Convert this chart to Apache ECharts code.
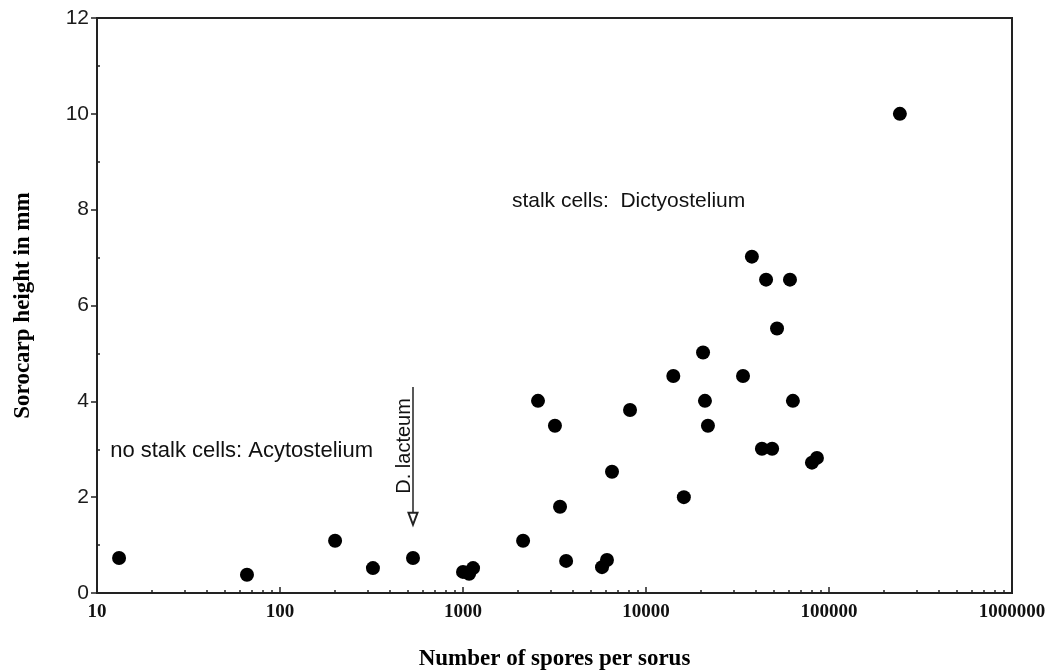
<!DOCTYPE html>
<html>
<head>
<meta charset="utf-8">
<script src="https://cdn.jsdelivr.net/npm/echarts@6/dist/echarts.min.js"></script>
<style>
  html, body { margin: 0; padding: 0; background: #fff; }
  #chart { width: 1054px; height: 672px; }
</style>
</head>
<body>
<div id="chart"></div>
<script>
// spores per sorus (x, log scale) and sorocarp height in mm (y)
const spores = [13.2, 66, 200, 322, 533, 1000, 1135, 1080, 2130, 3390, 3660, 5750, 6120,
  2570, 3180, 6520, 8180, 16100, 14100, 20500, 21000, 21800, 33900, 37900, 45300, 61200,
  52000, 63500, 43000, 48900, 80700, 85900, 244000]
const heights = [0.73, 0.38, 1.09, 0.52, 0.73, 0.44, 0.52, 0.40, 1.09, 1.80, 0.67, 0.54, 0.69,
  4.01, 3.49, 2.53, 3.82, 2.0, 4.53, 5.02, 4.01, 3.49, 4.53, 7.02, 6.54, 6.54,
  5.52, 4.01, 3.01, 3.01, 2.72, 2.82, 10.0]

const xTickLabels = ['10', '100', '1000', '10000', '100000', '1000000']
const yTickLabels = ['0', '2', '4', '6', '8', '10', '12']
// minor tick spots: 2..9 in every decade (as log10), odd heights on y
const xMinor = []
for (let d = 1; d < 6; d++) {
  for (let k = 2; k <= 9; k++) xMinor.push(d + Math.log10(k))
}
const yMinor = [1, 3, 5, 7, 9, 11]

// annotations: [x, y] in data units
const acyText = { text: 'no stalk cells: Acytostelium', at: [11.8, 2.97] }
const dictyText = { text: 'stalk cells:  Dictyostelium', at: [1850, 8.17] }
const lacteum = { text: 'D. lacteum', at: [533, 3.07], arrowFrom: [533, 4.3], arrowTo: [533, 1.55] }

const serif = "'Liberation Serif', 'Times New Roman', serif"
const sans = "'Liberation Sans', Arial, sans-serif"

let myChart = echarts.init(document.getElementById('chart'))

let series = [
  {
    type: 'scatter',
    symbol: 'circle',
    symbolSize: 14,
    itemStyle: { color: '#000', opacity: 1 },
    data: spores.map((s, i) => [s, heights[i]]),
    markLine: {
      silent: true,
      symbol: ['none', 'emptyTriangle'],
      symbolSize: [9, 12],
      label: { show: false },
      lineStyle: { color: '#222', width: 1.5, type: 'solid' },
      data: [[{ coord: lacteum.arrowFrom }, { coord: lacteum.arrowTo }]]
    }
  }
]

let options = {
  animation: false,
  grid: {
    left: 97, right: 42, top: 18, bottom: 79,
    outerBoundsMode: 'none',
    containLabel: false,
    show: true, borderColor: '#222', borderWidth: 2
  },
  xAxis: [
    {
      type: 'log',
      logBase: 10,
      min: 10,
      max: 1000000,
      name: 'Number of spores per sorus',
      nameLocation: 'middle',
      nameGap: 55,
      nameTextStyle: { fontFamily: serif, fontWeight: 'bold', fontSize: 23, color: '#000' },
      axisLine: { lineStyle: { color: '#222', width: 2 } },
      axisTick: { inside: true, length: 6, lineStyle: { color: '#222', width: 1.5 } },
      splitLine: { show: false },
      axisLabel: {
        margin: 10,
        fontFamily: serif,
        fontWeight: 'bold',
        fontSize: 19,
        color: '#111',
        formatter: (v) => xTickLabels[Math.round(Math.log10(v)) - 1]
      }
    },
    {
      type: 'value',
      position: 'bottom',
      min: 1,
      max: 6,
      axisLine: { show: false },
      axisLabel: { show: false },
      splitLine: { show: false },
      axisTick: { show: true, inside: true, length: 3, customValues: xMinor, lineStyle: { color: '#222', width: 1.5 } }
    }
  ],
  yAxis: [
    {
      type: 'value',
      min: 0,
      max: 12,
      interval: 2,
      name: 'Sorocarp height in mm',
      nameLocation: 'middle',
      nameRotate: 90,
      nameGap: 62,
      nameTextStyle: { fontFamily: serif, fontWeight: 'bold', fontSize: 23, color: '#000' },
      axisLine: { show: true, lineStyle: { color: '#222', width: 2 } },
      axisTick: { show: true, inside: false, length: 6, lineStyle: { color: '#222', width: 1.5 } },
      splitLine: { show: false },
      axisLabel: {
        margin: 8,
        fontFamily: sans,
        fontSize: 21,
        color: '#1a1a1a',
        formatter: (v) => yTickLabels[v / 2]
      }
    },
    {
      type: 'value',
      position: 'left',
      min: 0,
      max: 12,
      axisLine: { show: false },
      axisLabel: { show: false },
      splitLine: { show: false },
      axisTick: { show: true, inside: true, length: 3, customValues: yMinor, lineStyle: { color: '#222', width: 1.5 } }
    }
  ],
  series: series
}
myChart.setOption(options)

// place the text notes from data coordinates
const px = (p) => myChart.convertToPixel({ xAxisIndex: 0, yAxisIndex: 0 }, p)
const a = px(acyText.at)
const d = px(dictyText.at)
const l = px(lacteum.at)
myChart.setOption({
  graphic: [
    {
      type: 'text', x: a[0], y: a[1],
      style: { text: acyText.text, font: '22px ' + sans, fill: '#111', textAlign: 'left', textVerticalAlign: 'middle' }
    },
    {
      type: 'text', x: d[0], y: d[1],
      style: { text: dictyText.text, font: '21px ' + sans, fill: '#111', textAlign: 'left', textVerticalAlign: 'middle' }
    },
    {
      type: 'text', x: l[0] + 1, y: l[1], rotation: Math.PI / 2,
      style: { text: lacteum.text, font: '20px ' + sans, fill: '#111', textAlign: 'center', textVerticalAlign: 'bottom' }
    }
  ]
})
</script>
</body>
</html>
